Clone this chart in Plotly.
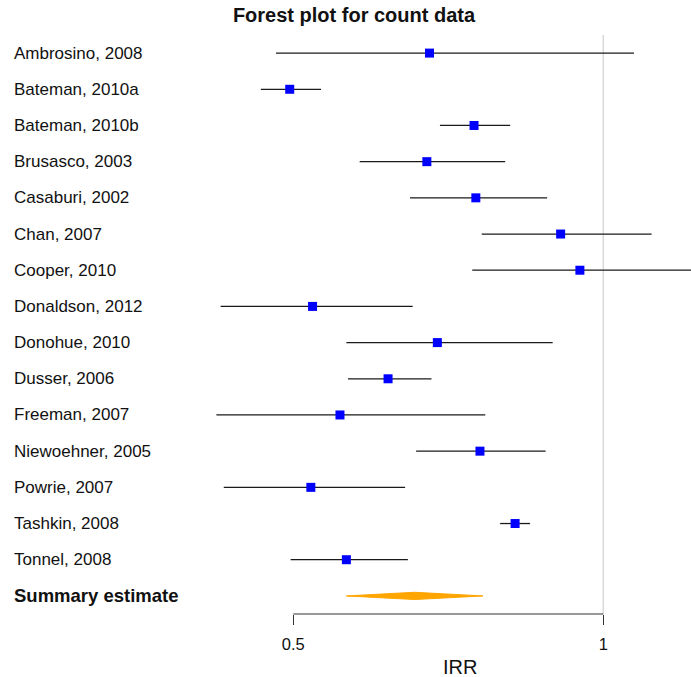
import math
import plotly.graph_objects as go

studies = ["Ambrosino, 2008", "Bateman, 2010a", "Bateman, 2010b", "Brusasco, 2003",
           "Casaburi, 2002", "Chan, 2007", "Cooper, 2010", "Donaldson, 2012",
           "Donohue, 2010", "Dusser, 2006", "Freeman, 2007", "Niewoehner, 2005",
           "Powrie, 2007", "Tashkin, 2008", "Tonnel, 2008"]
irr = [0.678, 0.496, 0.749, 0.674, 0.752, 0.909, 0.949, 0.522,
       0.690, 0.618, 0.555, 0.759, 0.520, 0.821, 0.563]
ci_low = [0.481, 0.465, 0.694, 0.580, 0.649, 0.762, 0.746, 0.425,
          0.563, 0.565, 0.421, 0.658, 0.428, 0.794, 0.497]
ci_high = [1.071, 0.532, 0.812, 0.803, 0.882, 1.114, 1.25, 0.653,
           0.893, 0.681, 0.768, 0.879, 0.642, 0.849, 0.646]
summary_label = "Summary estimate"
summary_est = 0.656
summary_low = 0.563
summary_high = 0.764
tick_vals = [0.5, 1]
tick_text = ["0.5", "1"]

W, H = 691, 677
FONT = "Liberation Sans, Arial, Helvetica, sans-serif"

rows = list(range(1, len(studies) + 1))
sum_row = len(studies) + 1

fig = go.Figure()

# reference line at IRR = 1
fig.add_shape(type="line", xref="x", yref="paper", x0=1, x1=1, y0=0, y1=1,
              line=dict(color="#d9d9d9", width=1.5), layer="below")

# confidence intervals + point estimates
fig.add_trace(go.Scatter(
    x=irr, y=rows, mode="markers",
    marker=dict(symbol="square", size=9, color="#0000ff", line=dict(width=0)),
    error_x=dict(type="data", symmetric=False,
                 array=[h - e for h, e in zip(ci_high, irr)],
                 arrayminus=[e - l for e, l in zip(irr, ci_low)],
                 color="#1a1a1a", thickness=1.3, width=0),
    showlegend=False, hoverinfo="skip"))

# summary diamond
hh = 0.1
fig.add_trace(go.Scatter(
    x=[summary_low, summary_est, summary_high, summary_est, summary_low],
    y=[sum_row, sum_row - hh, sum_row, sum_row + hh, sum_row],
    mode="lines", fill="toself", fillcolor="#ffa500",
    line=dict(color="#ffa500", width=1), showlegend=False, hoverinfo="skip"))

# axis line from 0.5 to 1
fig.add_shape(type="line", xref="x", yref="paper", x0=tick_vals[0], x1=tick_vals[-1],
              y0=0, y1=0, line=dict(color="#333333", width=1.2))

annotations = []
for r, s in zip(rows, studies):
    annotations.append(dict(x=12 / W, xref="paper", y=r, yref="y", text=s,
                            xanchor="left", yanchor="middle", showarrow=False,
                            font=dict(size=17, color="#111111", family=FONT)))
annotations.append(dict(x=12 / W, xref="paper", y=sum_row, yref="y",
                        text="<b>" + summary_label + "</b>",
                        xanchor="left", yanchor="middle", showarrow=False,
                        font=dict(size=18.5, color="#111111", family=FONT)))
annotations.append(dict(x=459.7 / W, xref="paper", y=-(666.7 - 614) / 579, yref="paper",
                        text="IRR", xanchor="center", yanchor="middle", showarrow=False,
                        font=dict(size=20, color="#111111", family=FONT)))

lpp = 0.30103 / 310.0
x_lo = -0.30103 - 293.3 * lpp
x_hi = (W - 603.3) * lpp

fig.update_layout(
    width=W, height=H,
    margin=dict(l=0, r=0, t=35, b=63),
    paper_bgcolor="white", plot_bgcolor="white",
    title=dict(text="<b>Forest plot for count data</b>", x=354 / W, xanchor="center",
               y=1 - 15 / H, yanchor="middle",
               font=dict(size=20, color="#111111", family=FONT)),
    xaxis=dict(type="log", range=[x_lo, x_hi], tickvals=tick_vals, ticktext=tick_text,
               ticks="outside", ticklen=10, tickwidth=1.2, tickcolor="#333333",
               ticklabelstandoff=5,
               showgrid=False, zeroline=False, showline=False,
               tickfont=dict(size=16.5, color="#111111", family=FONT)),
    yaxis=dict(range=[sum_row + 0.5, 0.5], showticklabels=False, showgrid=False,
               zeroline=False, showline=False, ticks=""),
    annotations=annotations,
)

fig.write_html("out.html", config={"displayModeBar": False, "staticPlot": True},
               post_script="document.body.style.margin='0';document.body.style.padding='0';"
                           "document.body.style.overflow='hidden';")
